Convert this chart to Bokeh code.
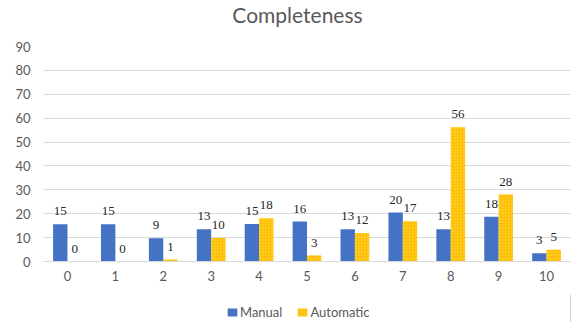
from bokeh.plotting import figure
from bokeh.models import ColumnDataSource, LabelSet, Label, Legend, LegendItem, FixedTicker, Range1d
from bokeh.layouts import column
from bokeh.embed import file_html
from bokeh.resources import INLINE

categories = [0, 1, 2, 3, 4, 5, 6, 7, 8, 9, 10]
manual = [15.6, 15.6, 9.7, 13.5, 15.7, 16.7, 13.5, 20.5, 13.5, 18.7, 3.5]
automatic = [0, 0, 0.8, 9.8, 18.1, 2.5, 11.9, 16.9, 56.2, 28.0, 4.9]
manual_labels = ["15", "15", "9", "13", "15", "16", "13", "20", "13", "18", "3"]
automatic_labels = ["0", "0", "1", "10", "18", "3", "12", "17", "56", "28", "5"]
y_ticks = [0, 10, 20, 30, 40, 50, 60, 70, 80, 90]
title_text = "Completeness"
series_names = ["Manual", "Automatic"]

FONT = "Lato"
GREY = "#595959"
BLUE = "#4472C4"
GOLD = "#FFC000"
HATCH = dict(hatch_pattern="dot", hatch_color="#FFDB66", hatch_scale=3, hatch_weight=1)

# ---- header with title (data units = canvas pixels over the aligned frame) ----
head = figure(width=571, height=40, output_backend="svg", toolbar_location=None, title=None,
              x_range=Range1d(43, 570), y_range=Range1d(0, 40),
              x_axis_type=None, y_axis_type=None, min_border=0)
head.outline_line_color = None
head.grid.visible = False
head.add_layout(Label(x=297, y=26, text=title_text, text_align="center", text_baseline="middle",
                      text_font=FONT, text_font_size="21px", text_color=GREY))

# ---- main chart ----
off = 0.15
src = ColumnDataSource(dict(
    xm=[c - off for c in categories],
    xa=[c + off for c in categories],
    manual=manual,
    automatic=automatic,
    ml=manual_labels,
    al=automatic_labels,
))

p = figure(frame_width=527, frame_height=215, output_backend="svg", toolbar_location=None,
           x_range=Range1d(-0.5, 10.5), y_range=Range1d(0, 90),
           min_border_left=43, min_border_right=1, min_border_top=6, min_border_bottom=33)
p.outline_line_color = None
p.xgrid.grid_line_color = None
p.ygrid.grid_line_color = "#D9D9D9"
p.ygrid.ticker = FixedTicker(ticks=y_ticks)

r1 = p.vbar(x="xm", top="manual", width=0.3, source=src, fill_color=BLUE, line_color=None)
r2 = p.vbar(x="xa", top="automatic", width=0.3, source=src, fill_color=GOLD, line_color=None, **HATCH)

p.add_layout(LabelSet(x="xm", y="manual", text="ml", source=src, text_align="center",
                      text_baseline="bottom", y_offset=9, text_font_size="13px",
                      text_font=FONT, text_color="#262626"))
p.add_layout(LabelSet(x="xa", y="automatic", text="al", source=src, text_align="center",
                      text_baseline="bottom", y_offset=9, text_font_size="13px",
                      text_font=FONT, text_color="#262626"))

p.xaxis.ticker = FixedTicker(ticks=categories)
p.xaxis.axis_line_color = "#D9D9D9"
p.xaxis.major_tick_line_color = None
p.xaxis.minor_tick_line_color = None
p.xaxis.major_tick_out = 0
p.xaxis.major_label_text_font = FONT
p.xaxis.major_label_text_font_size = "13px"
p.xaxis.major_label_text_color = GREY
p.xaxis.major_label_standoff = 9

p.yaxis.ticker = FixedTicker(ticks=y_ticks)
p.yaxis.axis_line_color = None
p.yaxis.major_tick_line_color = None
p.yaxis.minor_tick_line_color = None
p.yaxis.major_tick_out = 0
p.yaxis.major_label_text_font = FONT
p.yaxis.major_label_text_font_size = "13px"
p.yaxis.major_label_text_color = GREY
p.yaxis.major_label_standoff = 13

# ---- legend strip ----
lf = figure(width=571, height=28, output_backend="svg", toolbar_location=None, title=None,
            x_range=Range1d(0, 1), y_range=Range1d(0, 1),
            x_axis_type=None, y_axis_type=None, min_border=0)
lf.outline_line_color = None
lf.grid.visible = False
lr1 = lf.vbar(x=[5], top=[1], width=0.3, fill_color=BLUE, line_color=None)
lr2 = lf.vbar(x=[5], top=[1], width=0.3, fill_color=GOLD, line_color=None, **HATCH)
legend = Legend(items=[LegendItem(label=series_names[0], renderers=[lr1]),
                       LegendItem(label=series_names[1], renderers=[lr2])],
                orientation="horizontal", location=(183, 2),
                label_text_font=FONT, label_text_font_size="13px", label_text_color=GREY,
                glyph_width=12, glyph_height=10, label_height=16, spacing=14, padding=0, margin=0,
                border_line_color=None, background_fill_alpha=0, label_standoff=2)
lf.add_layout(legend, "center")

layout = column(head, p, lf, spacing=0)
open("out.html", "w").write(file_html(layout, INLINE))
